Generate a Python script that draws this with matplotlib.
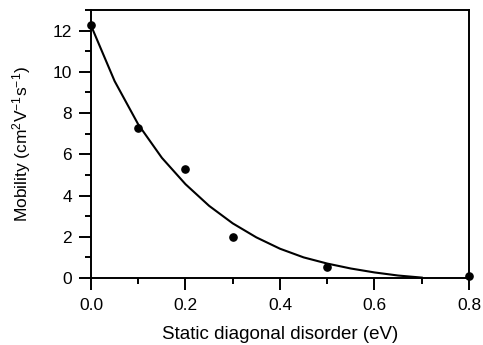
import numpy as np
import matplotlib as mpl

mpl.use('agg')

import matplotlib.pyplot as plt
from matplotlib.ticker import MultipleLocator

## Measured mobilities
disorder = [0.0, 0.1, 0.2, 0.3, 0.5, 0.8]
mobility = [12.28, 7.28, 5.28, 2.0, 0.52, 0.1]

## Fitted curve
fit_x = [0.0, 0.05, 0.10, 0.15, 0.20, 0.25, 0.30, 0.35, 0.40,
         0.45, 0.50, 0.55, 0.60, 0.65, 0.70]
fit_y = [12.25, 9.55, 7.45, 5.83, 4.55, 3.50, 2.65, 1.97, 1.42,
         1.00, 0.70, 0.46, 0.27, 0.12, 0.02]

plt.rcParams['font.family'] = ['Liberation Sans', 'DejaVu Sans']
plt.rcParams['mathtext.fontset'] = 'custom'
plt.rcParams['mathtext.rm'] = 'Liberation Sans'
plt.rcParams['mathtext.it'] = 'Liberation Sans'

fig = plt.figure(figsize=(4.83, 3.45), dpi=100)
ax = fig.add_axes([0.1884, 0.1942, 0.7826, 0.7768])

ax.plot(fit_x, fit_y, color='black', linewidth=1.5, zorder=3,
        solid_joinstyle='round')
ax.plot(disorder, mobility, linestyle='none', marker='o', markersize=5.2,
        color='black', clip_on=False, zorder=4)

ax.set_xlim(0, 0.8)
ax.set_ylim(0, 13)

ax.xaxis.set_major_locator(MultipleLocator(0.2))
ax.xaxis.set_minor_locator(MultipleLocator(0.1))
ax.yaxis.set_major_locator(MultipleLocator(2))
ax.yaxis.set_minor_locator(MultipleLocator(1))
ax.xaxis.set_major_formatter(mpl.ticker.FormatStrFormatter('%.1f'))

for side in ['left', 'bottom', 'top', 'right']:
    ax.spines[side].set_linewidth(1.4)

ax.tick_params(which='both', direction='out', top=False, right=False,
               width=1.4, labelsize=12.5)
ax.tick_params(which='major', length=8.5)
ax.tick_params(which='minor', length=4.3)
ax.tick_params(axis='x', pad=6)
ax.tick_params(axis='y', pad=5)

ax.set_xlabel('Static diagonal disorder (eV)', fontsize=13.5)
ax.set_ylabel('Mobility (cm$^2$V$^{-1}$s$^{-1}$)', fontsize=12.5)
ax.xaxis.set_label_coords(0.5, -0.178)
ax.yaxis.set_label_coords(-0.153, 0.5)

fig.savefig('out.png', dpi=100)
